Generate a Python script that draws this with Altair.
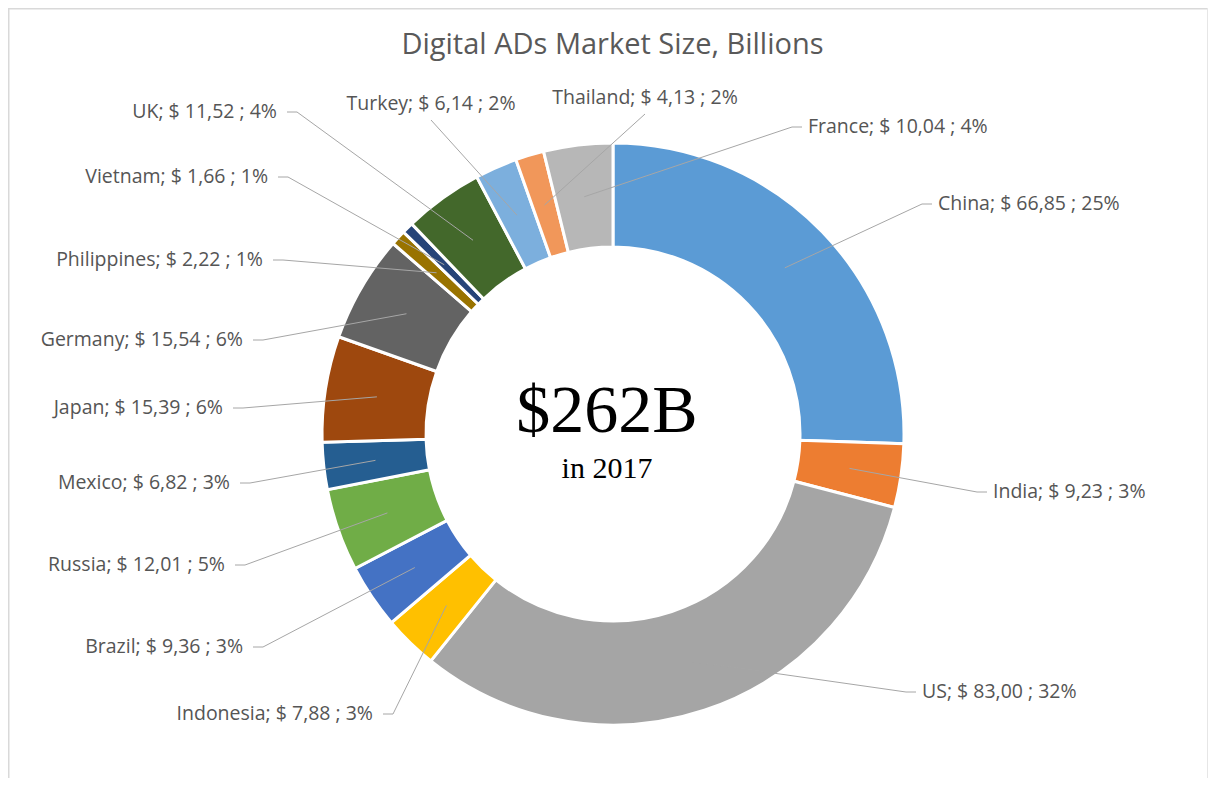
import math
import altair as alt
import pandas as pd

# ---------------- data ----------------
countries = ["China", "India", "US", "Indonesia", "Brazil", "Russia", "Mexico", "Japan",
             "Germany", "Philippines", "Vietnam", "UK", "Turkey", "Thailand", "France"]
values = [66.85, 9.23, 83.00, 7.88, 9.36, 12.01, 6.82, 15.39,
          15.54, 2.22, 1.66, 11.52, 6.14, 4.13, 10.04]
shares = [25, 3, 32, 3, 3, 5, 3, 6, 6, 1, 1, 4, 2, 2, 4]
year = "2017"

# ---------------- style / layout ----------------
colors = ["#5B9BD5", "#ED7D31", "#A5A5A5", "#FFC000", "#4472C4", "#70AD47", "#255E91", "#9E480E",
          "#636363", "#997300", "#264478", "#43682B", "#7CAFDD", "#F1975A", "#B7B7B7"]
# manual data-label placement (like Excel's moved labels): side and anchor offset from donut centre, px
label_side = ["R", "R", "R", "L", "L", "L", "L", "L", "L", "L", "L", "L", "T", "T", "R"]
label_dx = [319, 374, 303, -230, -360, -378, -373, -380, -360, -340, -335, -326, -182, 32, 189]
label_dy = [-230, 58, 258, 280, 213, 131, 49, -26, -94, -174, -257, -322, -314, -320, -307]

W, H = 1200, 770
CX, CY = 605, 426
R_OUT, R_IN = 291, 187
R_MID = (R_OUT + R_IN) / 2
TXT = "#555555"
LINE = "#A6A6A6"
LABEL_FONT = "Open Sans"

# ---------------- tables ----------------
total = sum(values)
arc_df = pd.DataFrame({"idx": range(len(countries)), "country": countries, "value": values})

line_rows, text_rows = [], []
cum = 0.0
for i, (c, v, s) in enumerate(zip(countries, values, shares)):
    mid = 2 * math.pi * (cum + v / 2) / total
    cum += v
    ix, iy = R_MID * math.sin(mid), -R_MID * math.cos(mid)
    px, py = label_dx[i], label_dy[i]
    side = label_side[i]
    if side == "L":
        ex = px + 10
        tx, ty = px - 10, py
    elif side == "R":
        ex = px - 10
        tx, ty = px + 6, py
    else:
        ex = px
        tx, ty = px, py - 16
    for k, (x, y) in enumerate([(ix, iy), (ex, py), (px, py)]):
        line_rows.append({"country": c, "pt": k, "x": x, "y": y})
    label = f"{c}; $ {v:.2f}".replace(".", ",") + f" ; {s}%"
    text_rows.append({"country": c, "side": side, "x": tx, "y": ty, "label": label})

line_df = pd.DataFrame(line_rows)
text_df = pd.DataFrame(text_rows)

xs = alt.X("x:Q", scale=alt.Scale(domain=[-CX, W - CX], nice=False, zero=False), axis=None)
ys = alt.Y("y:Q", scale=alt.Scale(domain=[-CY, H - CY], nice=False, zero=False, reverse=True), axis=None)

arcs = alt.Chart(arc_df).mark_arc(
    innerRadius=R_IN, outerRadius=R_OUT, stroke="white", strokeWidth=3
).encode(
    theta=alt.Theta("value:Q", stack=True),
    order=alt.Order("idx:Q"),
    color=alt.Color("country:N", scale=alt.Scale(domain=countries, range=colors), legend=None),
    x=alt.value(CX),
    y=alt.value(CY),
)

leaders = alt.Chart(line_df).mark_line(color=LINE, strokeWidth=1).encode(
    x=xs, y=ys, detail="country:N", order="pt:Q"
)

def label_layer(side, align):
    return alt.Chart(text_df).transform_filter(alt.datum.side == side).mark_text(
        align=align, baseline="middle", font=LABEL_FONT, fontSize=19.5, color=TXT
    ).encode(x=xs, y=ys, text="label:N")

labels = label_layer("L", "right") + label_layer("R", "left") + label_layer("T", "center")

title_df = pd.DataFrame({"t": ["Digital ADs Market Size, Billions"]})
title = alt.Chart(title_df).mark_text(
    align="center", baseline="alphabetic", font=LABEL_FONT, fontSize=29, color="#595959"
).encode(text="t:N", x=alt.value(604.5), y=alt.value(46))

centre_df = pd.DataFrame({"big": [f"${round(total)}B"], "small": [f"in {year}"]})
big = alt.Chart(centre_df).mark_text(
    align="center", baseline="alphabetic", font="Liberation Serif", fontSize=68, color="black"
).encode(text="big:N", x=alt.value(599), y=alt.value(424))
small = alt.Chart(centre_df).mark_text(
    align="center", baseline="alphabetic", font="Liberation Serif", fontSize=30, color="black"
).encode(text="small:N", x=alt.value(599), y=alt.value(470))

frame_df = pd.DataFrame({"k": [0]})
frame_left = alt.Chart(frame_df).mark_rule(color="#D9D9D9", strokeWidth=1.5).encode(
    x=alt.value(0.75), y=alt.value(0), y2=alt.value(H))
frame_top = alt.Chart(frame_df).mark_rule(color="#D9D9D9", strokeWidth=1.5).encode(
    x=alt.value(0), x2=alt.value(W), y=alt.value(0.75))
frame_right = alt.Chart(frame_df).mark_rule(color="#E6E6E6", strokeWidth=1).encode(
    x=alt.value(W - 0.5), y=alt.value(0), y2=alt.value(H))

chart = alt.layer(
    frame_left, frame_top, frame_right, arcs, leaders, labels, title, big, small
).properties(
    width=W, height=H, autosize=alt.AutoSizeParams(type="none"), padding=0, background="white"
).configure_view(stroke=None)

chart.save("out.html", embed_options={"renderer": "svg", "actions": False})
